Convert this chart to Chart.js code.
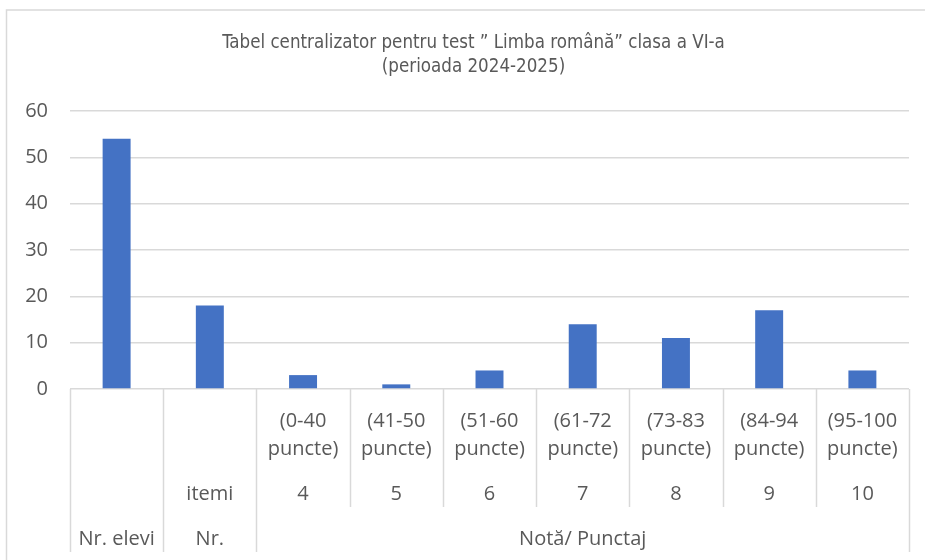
<!DOCTYPE html>
<html>
<head>
<meta charset="utf-8">
<script src="https://cdn.jsdelivr.net/npm/chart.js@4.4.1/dist/chart.umd.min.js"></script>
<style>
  html, body { margin: 0; padding: 0; background: #fff; }
</style>
</head>
<body>
<canvas id="myChart" width="925" height="560"></canvas>
<script>
// chart data
const categories = ["Nr. elevi", "Nr. itemi", "4", "5", "6", "7", "8", "9", "10"];
const values = [54, 18, 3, 1, 4, 14, 11, 17, 4];
const rangeLabels = [
  [], [],
  ["(0-40", "puncte)"], ["(41-50", "puncte)"], ["(51-60", "puncte)"],
  ["(61-72", "puncte)"], ["(73-83", "puncte)"], ["(84-94", "puncte)"],
  ["(95-100", "puncte)"]
];
const gradeLabels = ["", "itemi", "4", "5", "6", "7", "8", "9", "10"];
const groupLabels = ["Nr. elevi", "Nr.", "Notă/ Punctaj"];
const groupStart = [0, 1, 2];
const groupEnd = [0, 1, 8];
const titleLines = ["Tabel centralizator pentru test ” Limba română” clasa a VI-a", "(perioada 2024-2025)"];

const textColor = "#595959";
const lineColor = "#d9d9d9";
const axisFont = "20px 'Open Sans', sans-serif";

// frame around the chart (only top and left are visible) + title, which excel centres a bit right
const frame = {
  id: "frame",
  beforeDraw(chart) {
    const ctx = chart.ctx;
    ctx.save();
    ctx.strokeStyle = lineColor;
    ctx.lineWidth = 1.5;
    ctx.strokeRect(6.5, 10, 1000, 1000);
    ctx.fillStyle = textColor;
    ctx.font = "18.6px 'DejaVu Sans Condensed', sans-serif";
    ctx.textAlign = "center";
    ctx.textBaseline = "middle";
    titleLines.forEach((t, k) => ctx.fillText(t, 473.5, 43 + k * 24));
    ctx.restore();
  },
};

// excel-like multi level category axis
const multiAxis = {
  id: "multiAxis",
  afterDraw(chart) {
    const ctx = chart.ctx;
    const x = chart.scales.x;
    const area = chart.chartArea;
    const n = categories.length;
    const edge = (i) => {
      if (i <= 0) return area.left;
      if (i >= n) return area.right;
      return (x.getPixelForValue(i - 1) + x.getPixelForValue(i)) / 2;
    };
    const top = area.bottom;

    ctx.save();
    ctx.strokeStyle = lineColor;
    ctx.lineWidth = 1.5;
    for (let i = 0; i <= n; i++) {
      const full = i === 0 || i === n || groupStart.includes(i);
      const px = Math.round(edge(i)) + 0.5;
      ctx.beginPath();
      ctx.moveTo(px, top);
      ctx.lineTo(px, top + (full ? 163 : 118));
      ctx.stroke();
    }

    ctx.fillStyle = textColor;
    ctx.font = axisFont;
    ctx.textAlign = "center";
    ctx.textBaseline = "middle";
    for (let i = 0; i < n; i++) {
      const cx = x.getPixelForValue(i);
      rangeLabels[i].forEach((t, k) => ctx.fillText(t, cx, top + 32 + k * 28));
      if (gradeLabels[i]) ctx.fillText(gradeLabels[i], cx, top + 105);
    }
    groupLabels.forEach((t, g) => {
      const cx = (edge(groupStart[g]) + edge(groupEnd[g] + 1)) / 2;
      ctx.fillText(t, cx, top + 150);
    });
    ctx.restore();
  },
};

const data = {
  labels: categories,
  datasets: [
    {
      data: values,
      backgroundColor: "#4472c4",
      categoryPercentage: 1,
      barPercentage: 0.3,
    },
  ],
};

const config = {
  type: "bar",
  data: data,
  plugins: [frame, multiAxis],
  options: {
    responsive: false,
    animation: false,
    layout: { padding: { top: 111, right: 16 } },
    scales: {
      x: {
        grid: { display: false },
        border: { display: false },
        ticks: { display: false },
        afterFit: (s) => { s.height = 171; },
      },
      y: {
        min: 0,
        max: 60,
        ticks: {
          stepSize: 10,
          color: textColor,
          padding: 22,
          font: { family: "'Open Sans', sans-serif", size: 20 },
        },
        grid: { color: lineColor, lineWidth: 1.5, drawTicks: false },
        border: { display: false },
        afterFit: (s) => { s.width = 70; },
      },
    },
    plugins: {
      legend: { display: false },
    },
  },
};

const myChart = new Chart(document.getElementById("myChart"), config);
</script>
</body>
</html>
